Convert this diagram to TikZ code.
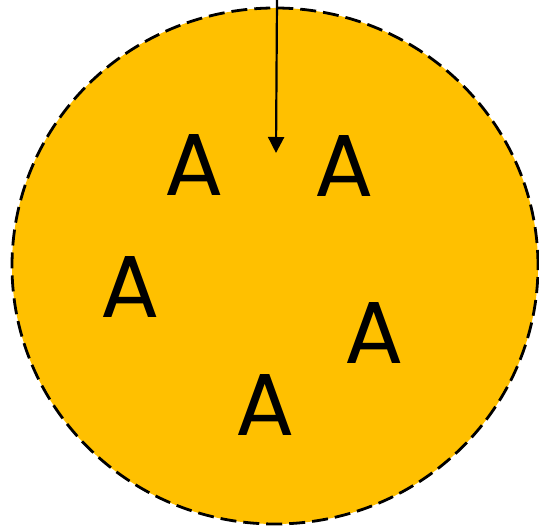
\documentclass[tikz,border=0pt]{standalone}
\usepackage{fontspec}
\setmainfont{Poppins}
\usepackage{tikz}
\usetikzlibrary{arrows.meta}
\definecolor{gold}{HTML}{FFC000}

\begin{document}
\begin{tikzpicture}[x=1pt, y=1pt,
  cell/.style={draw=black, line width=2.8pt, dash pattern=on 16pt off 7pt, fill=gold},
  letter/.style={inner sep=0pt, font=\fontsize{88}{88}\selectfont},
  arr/.style={line width=2.2pt, -{Triangle[length=16pt, width=16pt]}}]
  \useasboundingbox (0,0) rectangle (539,527);
  \draw[cell] (275,261) ellipse [x radius=263, y radius=258];
  \coordinate (src) at (277,527);
  \coordinate (tip) at (276,374);
  \node[letter] (a1) at (194,362) {A};
  \node[letter] (a2) at (344,361) {A};
  \node[letter] (a3) at (130,240) {A};
  \node[letter] (a4) at (374,194) {A};
  \node[letter] (a5) at (265,122) {A};
  \draw[arr] (src) -- (tip);
\end{tikzpicture}
\end{document}
